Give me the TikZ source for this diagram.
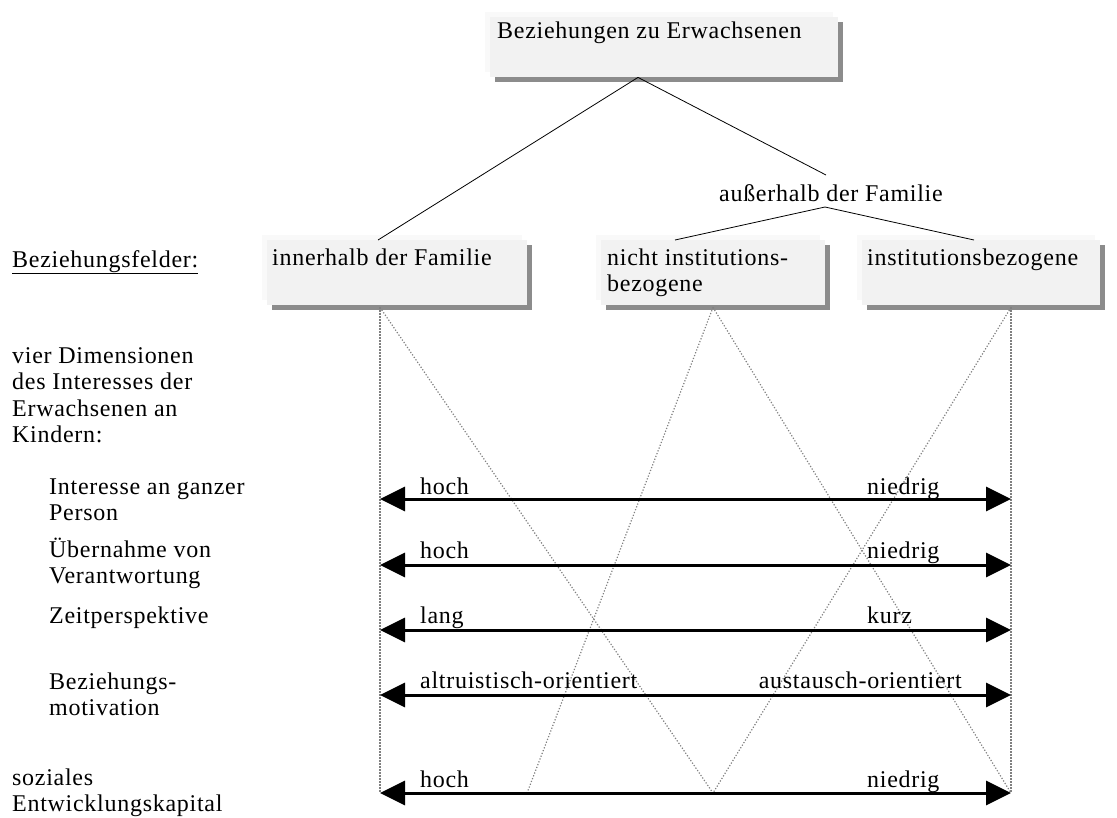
\documentclass[tikz,border=0pt]{standalone}
\usepackage{fontspec}
\setmainfont[LetterSpace=3]{Liberation Serif}
\usetikzlibrary{arrows.meta,shadows,calc}
\begin{document}
\begin{tikzpicture}[x=1pt,y=-1pt,
  txt/.style={font=\fontsize{24}{26.5}\selectfont, inner sep=0pt, anchor=base west},
  rtxt/.style={txt, anchor=base east},
  boxnode/.style={fill=black!5, draw=none, anchor=north west, inner sep=0pt,
     drop shadow={shadow xshift=-5pt, shadow yshift=5pt, fill=black!2.5, opacity=1},
     drop shadow={shadow xshift=5pt, shadow yshift=-5pt, fill=black!45, opacity=1}},
  conn/.style={line width=0.8pt, black},
  dots/.style={black!50, line width=1.2pt, dash pattern=on 1.2pt off 1.8pt},
  dim/.style={line width=3pt, arrows={Triangle[length=25pt,width=24pt]-Triangle[length=25pt,width=24pt]}}
]
\useasboundingbox (0,0) rectangle (1117,817);

% boxes
\node[boxnode, minimum width=348pt, minimum height=60pt] (top) at (490,17) {};
\node[boxnode, minimum width=260pt, minimum height=65pt] (innen) at (267,240) {};
\node[boxnode, minimum width=224pt, minimum height=65pt] (nicht) at (601,240) {};
\node[boxnode, minimum width=238pt, minimum height=65pt] (inst) at (862,240) {};

% box texts
\node[txt] (topt) at ($(top.north west)+(7,21)$) {Beziehungen zu Erwachsenen};
\node[txt] (innent) at ($(innen.north west)+(5,25)$) {innerhalb der Familie};
\node[txt] (nichtt) at ($(nicht.north west)+(6,25)$) {\parbox[t]{8cm}{nicht institutions-\\bezogene}};
\node[txt] (instt) at ($(inst.north west)+(5,25)$) {institutionsbezogene};
\node[txt] (auss) at (719,201) {außerhalb der Familie};

% connector points
\coordinate (apex) at ($(top.south west)+(148,0)$);
\coordinate (innenIn) at ($(innen.north west)+(111,0)$);
\coordinate (aussTop) at ($(auss.base west)+(107,-26)$);
\coordinate (aussBot) at ($(auss.base west)+(106,6)$);
\coordinate (nichtIn) at ($(nicht.north west)+(74,0)$);
\coordinate (instIn) at ($(inst.north west)+(112,0)$);

\draw[conn] (apex) -- (innenIn);
\draw[conn] (apex) -- (aussTop);
\draw[conn] (aussBot) -- (nichtIn);
\draw[conn] (aussBot) -- (instIn);

% dotted lines
\coordinate (innenOut) at ($(innen.south west)+(113,2)$);
\coordinate (nichtOut) at ($(nicht.south west)+(112,2)$);
\coordinate (instOut) at ($(inst.south west)+(149,2)$);
\coordinate (bl) at (380,793);
\coordinate (bm1) at (527,793);
\coordinate (bm2) at (713,793);
\coordinate (br) at (1011,793);
\draw[dots] (innenOut) -- (bl);
\draw[dots] (instOut) -- (br);
\draw[dots] (innenOut) -- (bm2);
\draw[dots] (nichtOut) -- (bm1);
\draw[dots] (nichtOut) -- (br);
\draw[dots] (instOut) -- (bm2);

% left labels
\node[txt] (felder) at (12,267) {\underline{Beziehungsfelder:}};
\node[txt] (vier) at (12,363) {\parbox[t]{8cm}{vier Dimensionen\\des Interesses der\\Erwachsenen an\\Kindern:}};
\node[txt] (d1) at (49,494) {\parbox[t]{8cm}{Interesse an ganzer\\Person}};
\node[txt] (d2) at (49,557) {\parbox[t]{8cm}{Übernahme von\\Verantwortung}};
\node[txt] (d3) at (49,623) {Zeitperspektive};
\node[txt] (d4) at (49,689) {\parbox[t]{8cm}{Beziehungs-\\motivation}};
\node[txt] (sek) at (12,785) {\parbox[t]{8cm}{soziales\\Entwicklungskapital}};

% dimension arrows
\coordinate (l1) at (380,499); \coordinate (r1) at (1011,499);
\coordinate (l2) at (380,565); \coordinate (r2) at (1011,565);
\coordinate (l3) at (380,630); \coordinate (r3) at (1011,630);
\coordinate (l4) at (380,695); \coordinate (r4) at (1011,695);
\coordinate (l5) at (380,793); \coordinate (r5) at (1011,793);
\draw[dim] (l1) -- (r1);
\draw[dim] (l2) -- (r2);
\draw[dim] (l3) -- (r3);
\draw[dim] (l4) -- (r4);
\draw[dim] (l5) -- (r5);

\node[txt] (h1) at ($(l1)+(40,-5)$) {hoch};
\node[txt] (n1) at ($(r1)+(-144,-5)$) {niedrig};
\node[txt] (h2) at ($(l2)+(40,-7)$) {hoch};
\node[txt] (n2) at ($(r2)+(-144,-7)$) {niedrig};
\node[txt] (lang) at ($(l3)+(40,-7)$) {lang};
\node[txt] (kurz) at ($(r3)+(-144,-7)$) {kurz};
\node[txt] (alt) at ($(l4)+(40,-7)$) {altruistisch-orientiert};
\node[rtxt] (aus) at ($(r4)+(-49,-7)$) {austausch-orientiert};
\node[txt] (h5) at ($(l5)+(40,-6)$) {hoch};
\node[txt] (n5) at ($(r5)+(-144,-6)$) {niedrig};
\end{tikzpicture}
\end{document}
